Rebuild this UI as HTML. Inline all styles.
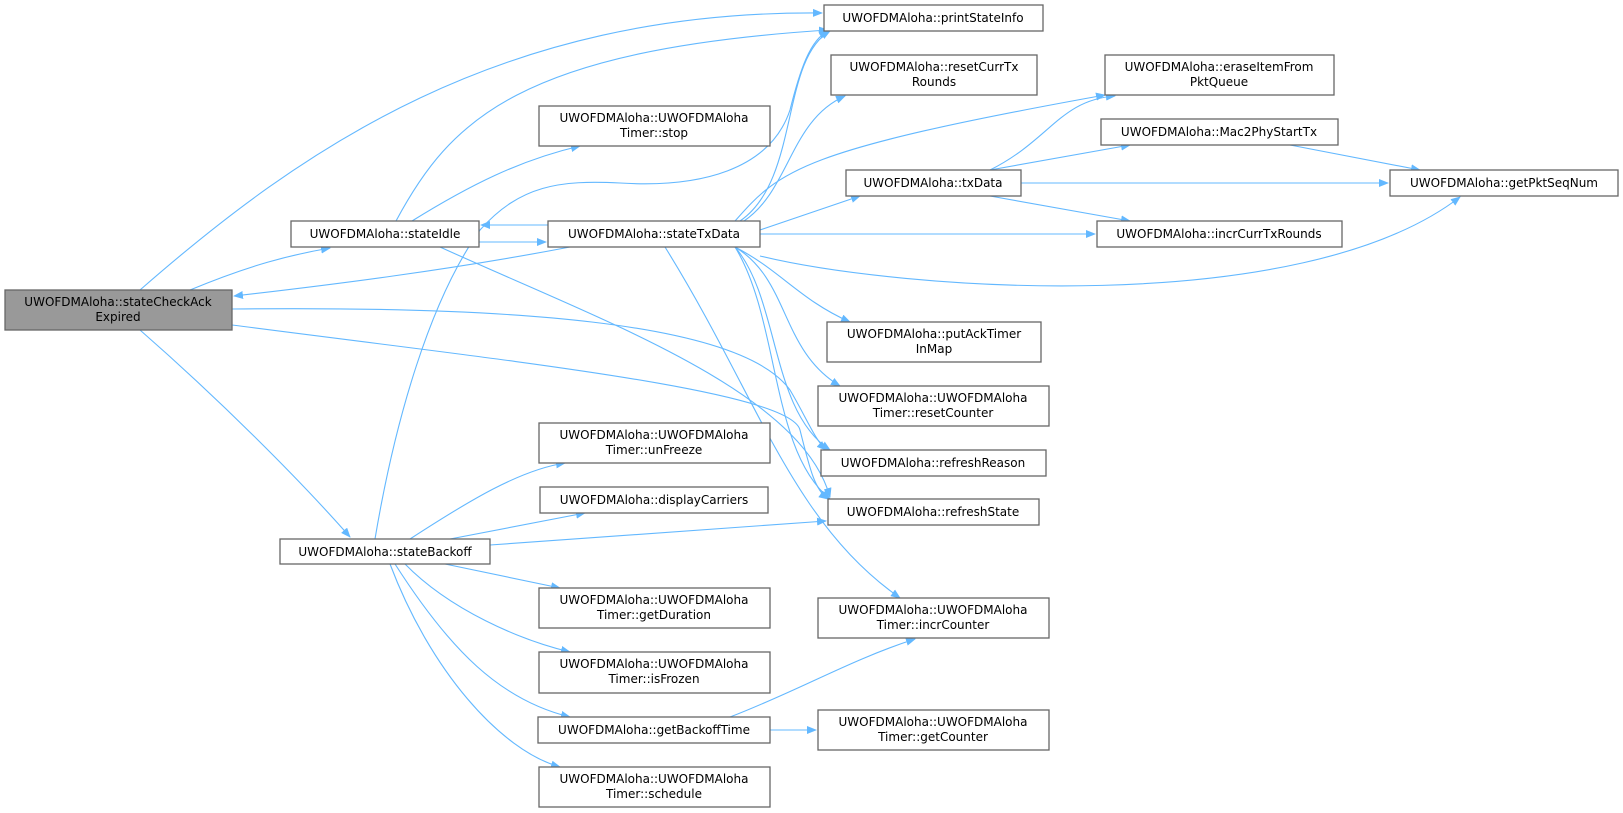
<!DOCTYPE html>
<html><head><meta charset="utf-8"><style>
html,body{margin:0;padding:0;background:#fff;}
svg{display:block;}
text{font-family:"DejaVu Sans","Liberation Sans",sans-serif;font-size:12px;fill:#000;}
.n{fill:#fff;stroke:#666;stroke-width:1.3;}
.e{fill:none;stroke:#63b8ff;stroke-width:1.1;marker-end:url(#a);}
</style></head><body>
<svg width="1623" height="813" viewBox="0 0 1623 813" xmlns="http://www.w3.org/2000/svg">
<defs><marker id="a" markerWidth="10" markerHeight="8" refX="9" refY="4" orient="auto" markerUnits="userSpaceOnUse"><path d="M0,0 L10,4 L0,8 z" fill="#63b8ff"/></marker></defs>
<g>
<path class="e" d="M140,290 C300,150 500,10 822,13"/>
<path class="e" d="M190,290 C250,265 290,255 330,248"/>
<path class="e" d="M570,247 C450,270 330,285 234,296"/>
<path class="e" d="M232,309 C500,306 740,320 790,390 C805,415 815,440 826,450"/>
<path class="e" d="M232,325 C500,360 790,390 800,430 C810,470 815,490 828,499"/>
<path class="e" d="M140,330 C220,400 300,480 350,537"/>
<path class="e" d="M396,221 C450,120 520,50 828,30"/>
<path class="e" d="M412,221 C470,185 520,160 580,146"/>
<path class="e" d="M479,242 L546,242"/>
<path class="e" d="M440,247 C600,320 800,390 830,497"/>
<path class="e" d="M548,225 L481,225"/>
<path class="e" d="M740,221 C800,180 780,60 830,31"/>
<path class="e" d="M744,221 C790,190 790,120 845,96"/>
<path class="e" d="M735,221 C780,170 800,150 1105,95"/>
<path class="e" d="M760,230 L860,196"/>
<path class="e" d="M760,234 L1095,234"/>
<path class="e" d="M760,256 C900,290 1300,320 1460,197"/>
<path class="e" d="M735,247 C780,270 800,300 850,322"/>
<path class="e" d="M735,247 C790,280 780,350 840,386"/>
<path class="e" d="M735,247 C780,300 770,410 830,450"/>
<path class="e" d="M735,247 C780,320 770,450 830,499"/>
<path class="e" d="M665,247 C760,400 790,520 900,598"/>
<path class="e" d="M375,539 C395,420 430,300 480,230 C520,185 560,180 620,183 C700,188 770,170 790,110 C800,70 810,40 828,31"/>
<path class="e" d="M410,539 C470,500 520,470 565,463"/>
<path class="e" d="M450,539 L585,513"/>
<path class="e" d="M490,545 L826,521"/>
<path class="e" d="M445,564 L560,588"/>
<path class="e" d="M405,564 C450,610 520,640 570,652"/>
<path class="e" d="M395,564 C450,650 500,700 570,717"/>
<path class="e" d="M390,564 C430,670 500,750 560,767"/>
<path class="e" d="M990,170 C1050,140 1060,100 1115,96"/>
<path class="e" d="M990,170 L1130,145"/>
<path class="e" d="M1021,183 L1388,183"/>
<path class="e" d="M990,196 L1130,221"/>
<path class="e" d="M1290,145 L1420,170"/>
<path class="e" d="M730,717 C800,690 850,660 915,639"/>
<path class="e" d="M770,730 L816,730"/>
</g>
<g text-anchor="middle">
<rect x="5" y="290" width="227" height="40" fill="#999" stroke="#666" stroke-width="1.3"/>
<text x="118" y="306">UWOFDMAloha::stateCheckAck</text><text x="118" y="321">Expired</text>

<rect class="n" x="291" y="221" width="188" height="26"/><text x="385" y="238">UWOFDMAloha::stateIdle</text>
<rect class="n" x="548" y="221" width="212" height="26"/><text x="654" y="238">UWOFDMAloha::stateTxData</text>
<rect class="n" x="539" y="106" width="231" height="40"/><text x="654" y="122">UWOFDMAloha::UWOFDMAloha</text><text x="654" y="137">Timer::stop</text>
<rect class="n" x="280" y="539" width="210" height="25"/><text x="385" y="556">UWOFDMAloha::stateBackoff</text>

<rect class="n" x="824" y="5" width="219" height="26"/><text x="933" y="22">UWOFDMAloha::printStateInfo</text>
<rect class="n" x="831" y="55" width="206" height="40"/><text x="934" y="71">UWOFDMAloha::resetCurrTx</text><text x="934" y="86">Rounds</text>
<rect class="n" x="1105" y="55" width="229" height="40"/><text x="1219" y="71">UWOFDMAloha::eraseItemFrom</text><text x="1219" y="86">PktQueue</text>
<rect class="n" x="1101" y="119" width="237" height="26"/><text x="1219" y="136">UWOFDMAloha::Mac2PhyStartTx</text>
<rect class="n" x="846" y="170" width="175" height="26"/><text x="933" y="187">UWOFDMAloha::txData</text>
<rect class="n" x="1390" y="170" width="228" height="26"/><text x="1504" y="187">UWOFDMAloha::getPktSeqNum</text>
<rect class="n" x="1097" y="221" width="245" height="26"/><text x="1219" y="238">UWOFDMAloha::incrCurrTxRounds</text>
<rect class="n" x="827" y="322" width="214" height="40"/><text x="934" y="338">UWOFDMAloha::putAckTimer</text><text x="934" y="353">InMap</text>
<rect class="n" x="818" y="386" width="231" height="40"/><text x="933" y="402">UWOFDMAloha::UWOFDMAloha</text><text x="933" y="417">Timer::resetCounter</text>
<rect class="n" x="821" y="450" width="225" height="26"/><text x="933" y="467">UWOFDMAloha::refreshReason</text>
<rect class="n" x="828" y="499" width="211" height="26"/><text x="933" y="516">UWOFDMAloha::refreshState</text>
<rect class="n" x="818" y="598" width="231" height="40"/><text x="933" y="614">UWOFDMAloha::UWOFDMAloha</text><text x="933" y="629">Timer::incrCounter</text>
<rect class="n" x="818" y="710" width="231" height="40"/><text x="933" y="726">UWOFDMAloha::UWOFDMAloha</text><text x="933" y="741">Timer::getCounter</text>

<rect class="n" x="539" y="423" width="231" height="40"/><text x="654" y="439">UWOFDMAloha::UWOFDMAloha</text><text x="654" y="454">Timer::unFreeze</text>
<rect class="n" x="540" y="487" width="228" height="26"/><text x="654" y="504">UWOFDMAloha::displayCarriers</text>
<rect class="n" x="539" y="588" width="231" height="40"/><text x="654" y="604">UWOFDMAloha::UWOFDMAloha</text><text x="654" y="619">Timer::getDuration</text>
<rect class="n" x="539" y="652" width="231" height="41"/><text x="654" y="668">UWOFDMAloha::UWOFDMAloha</text><text x="654" y="683">Timer::isFrozen</text>
<rect class="n" x="538" y="717" width="232" height="26"/><text x="654" y="734">UWOFDMAloha::getBackoffTime</text>
<rect class="n" x="539" y="767" width="231" height="40"/><text x="654" y="783">UWOFDMAloha::UWOFDMAloha</text><text x="654" y="798">Timer::schedule</text>
</g>
</svg>
</body></html>
